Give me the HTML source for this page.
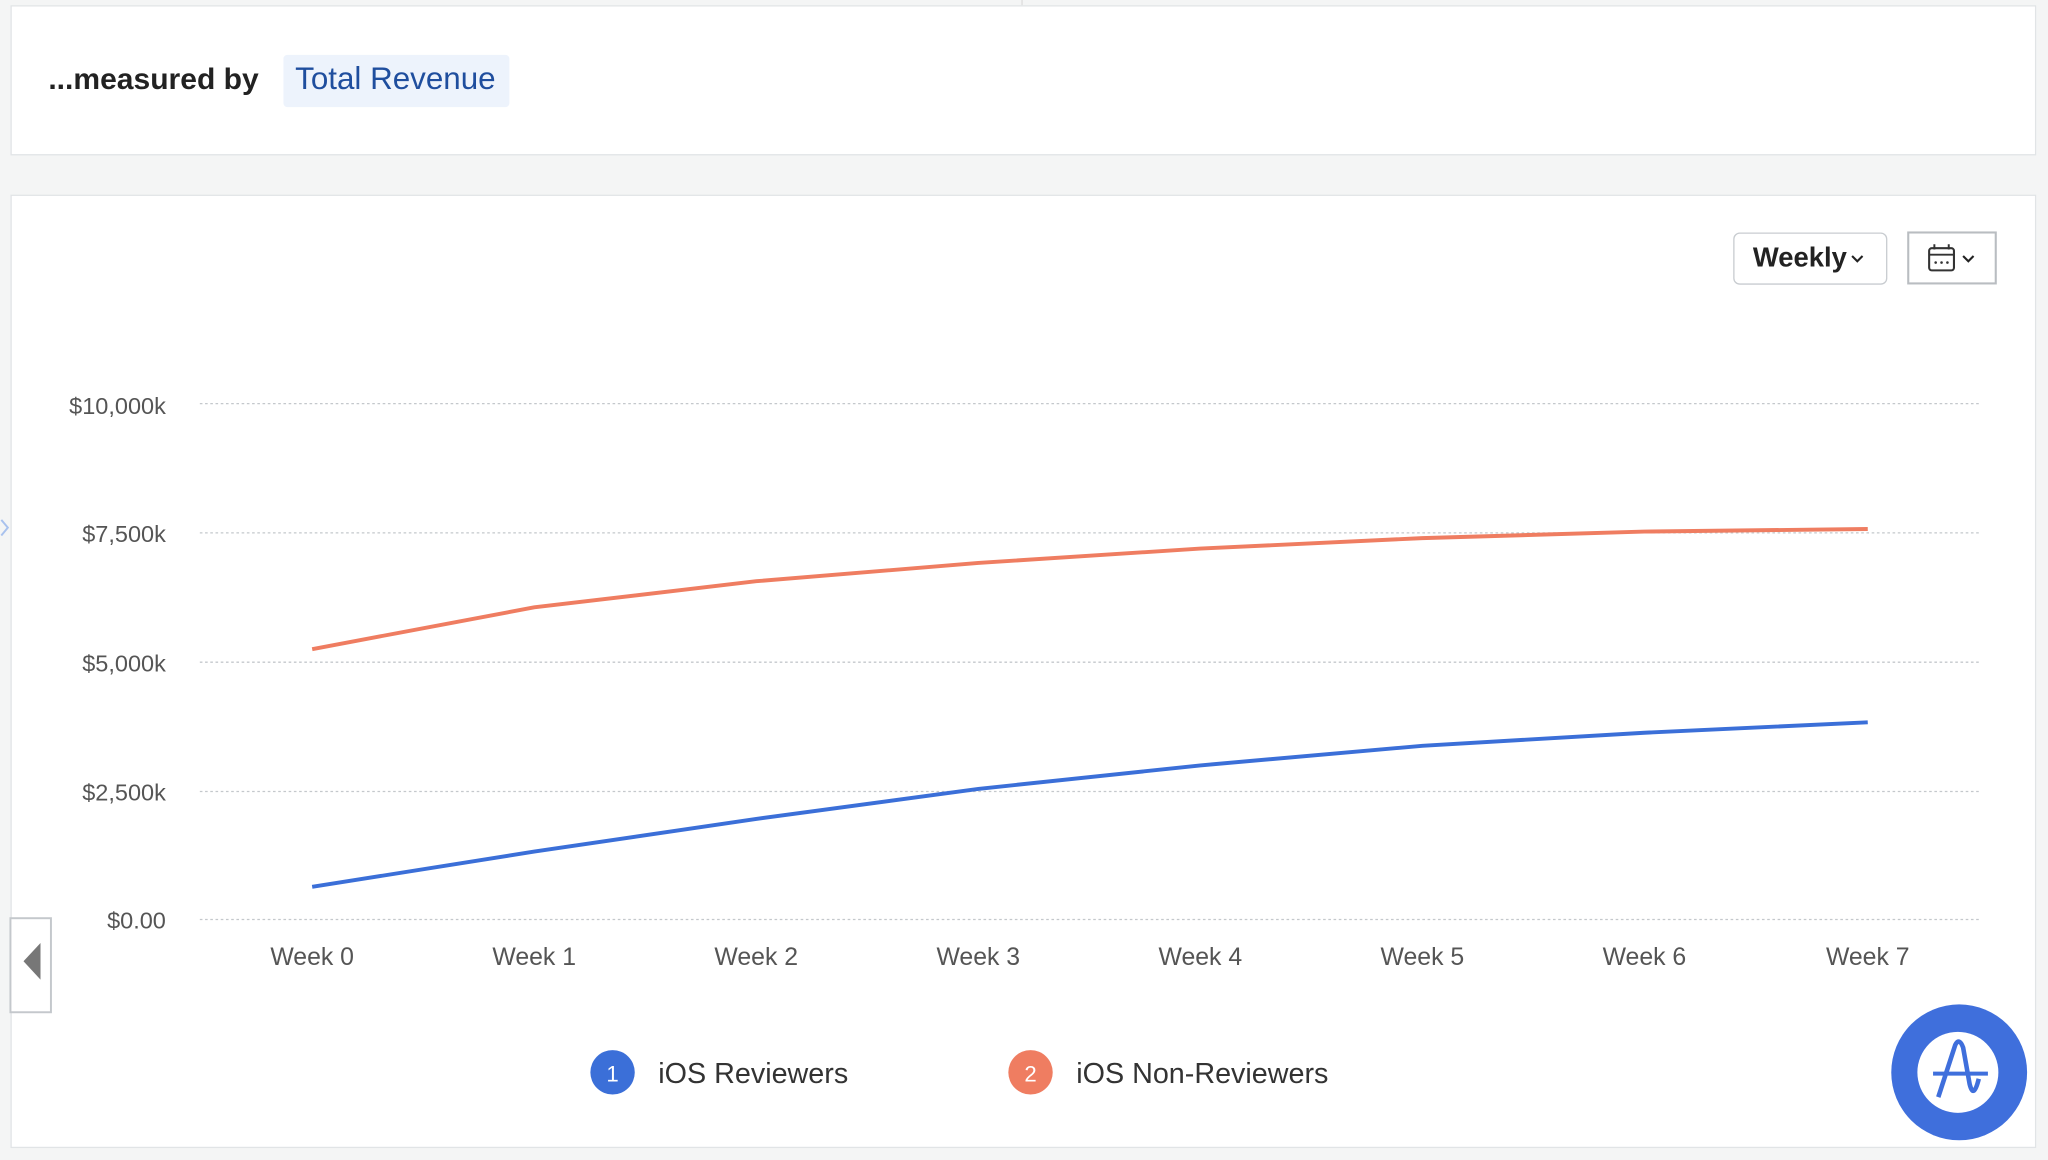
<!DOCTYPE html>
<html><head><meta charset="utf-8"><style>
html,body{margin:0;padding:0;width:2048px;height:1160px;overflow:hidden;background:#f4f5f5;}
#w{position:absolute;left:0;top:0;width:1568px;height:888px;transform:scale(1.306122);transform-origin:0 0;font-family:"Liberation Sans",sans-serif;}
.card{position:absolute;background:#fff;border:1.5px solid #e1e4e6;}
.t{position:absolute;white-space:nowrap;}
</style></head><body><div id="w">
<div class="card" style="left:8px;top:4px;width:1549px;height:113px;"></div>
<div style="position:absolute;left:782px;top:0;width:1px;height:4px;background:#ddd"></div>
<div class="t" style="left:37px;top:47px;font-size:23px;font-weight:bold;color:#222;">...measured by</div>
<div style="position:absolute;left:217px;top:42px;width:173px;height:40px;background:#edf3fc;border-radius:3px;"></div>
<div class="t" style="left:226px;top:47px;font-size:24px;color:#1f4e9e;">Total Revenue</div>

<div class="card" style="left:8px;top:149px;width:1549px;height:728px;"></div>
<div style="position:absolute;left:1327px;top:178px;width:116px;height:38px;border:1.5px solid #c8ccd0;border-radius:5px;background:#fff"></div>
<div class="t" style="left:1342px;top:186px;font-size:21px;font-weight:bold;color:#222">Weekly</div>
<svg style="position:absolute;left:0;top:0" width="1568" height="888">
<path d="M1418 196l4 4 4-4" fill="none" stroke="#222" stroke-width="1.6"/>
<rect x="1461" y="178" width="67" height="39" fill="#fff" stroke="#b9bdc1" stroke-width="1.6"/>
<rect x="1477" y="190" width="19" height="17" rx="2" fill="none" stroke="#333" stroke-width="1.6"/>
<line x1="1477" y1="195" x2="1496" y2="195" stroke="#333" stroke-width="1.5"/>
<line x1="1481" y1="187" x2="1481" y2="191" stroke="#333" stroke-width="1.5"/>
<line x1="1492" y1="187" x2="1492" y2="191" stroke="#333" stroke-width="1.5"/>
<circle cx="1482" cy="201" r="1" fill="#333"/><circle cx="1486.5" cy="201" r="1" fill="#333"/><circle cx="1491" cy="201" r="1" fill="#333"/>
<path d="M1503 196l4 4 4-4" fill="none" stroke="#222" stroke-width="1.6"/>
<g stroke="#c4c8cc" stroke-width="1" stroke-dasharray="2,2">
<line x1="153" y1="309" x2="1515" y2="309"/><line x1="153" y1="408" x2="1515" y2="408"/><line x1="153" y1="507" x2="1515" y2="507"/><line x1="153" y1="606" x2="1515" y2="606"/><line x1="153" y1="704" x2="1515" y2="704"/>
</g>
<g font-family="Liberation Sans" font-size="18" fill="#555" text-anchor="end">
<text x="127" y="317">$10,000k</text><text x="127" y="415">$7,500k</text><text x="127" y="514">$5,000k</text><text x="127" y="613">$2,500k</text><text x="127" y="711">$0.00</text>
</g>
<g font-family="Liberation Sans" font-size="19" fill="#555" text-anchor="middle">
<text x="239" y="739">Week 0</text><text x="409" y="739">Week 1</text><text x="579" y="739">Week 2</text><text x="749" y="739">Week 3</text><text x="919" y="739">Week 4</text><text x="1089" y="739">Week 5</text><text x="1259" y="739">Week 6</text><text x="1430" y="739">Week 7</text>
</g>
<polyline fill="none" stroke="#ef7d61" stroke-width="3" points="239,497 409,465 579,445 749,431 919,420 1089,412 1259,407 1430,405"/>
<polyline fill="none" stroke="#3b6fd8" stroke-width="3" points="239,679 409,652 579,627 749,604 919,586 1089,571 1259,561 1430,553"/>
<rect x="8" y="703" width="31" height="72" fill="#fff" stroke="#c4c8cc" stroke-width="1.5"/>
<path d="M31 722L18 736L31 750Z" fill="#777"/>
<path d="M1 398l5 6-5 6" fill="none" stroke="#a9c2ee" stroke-width="1.5"/>
<circle cx="469" cy="821" r="17" fill="#3b6fd8"/>
<text x="469" y="828" font-family="Liberation Sans" font-size="17" fill="#fff" text-anchor="middle">1</text>
<text x="504" y="829" font-family="Liberation Sans" font-size="22" fill="#333">iOS Reviewers</text>
<circle cx="789" cy="821" r="17" fill="#ef7d61"/>
<text x="789" y="828" font-family="Liberation Sans" font-size="17" fill="#fff" text-anchor="middle">2</text>
<text x="824" y="829" font-family="Liberation Sans" font-size="22" fill="#333">iOS Non-Reviewers</text>
<circle cx="1500" cy="821" r="52" fill="#3f6fdc"/>
<circle cx="1499" cy="821" r="31" fill="#fff"/>
<path d="M1484 840 L1497 800 Q1500 794 1503 802 L1508 830 Q1511 842 1515 826" fill="none" stroke="#3f6fdc" stroke-width="3.5"/>
<line x1="1480" y1="822" x2="1522" y2="822" stroke="#3f6fdc" stroke-width="3"/>
</svg>
</div></body></html>
